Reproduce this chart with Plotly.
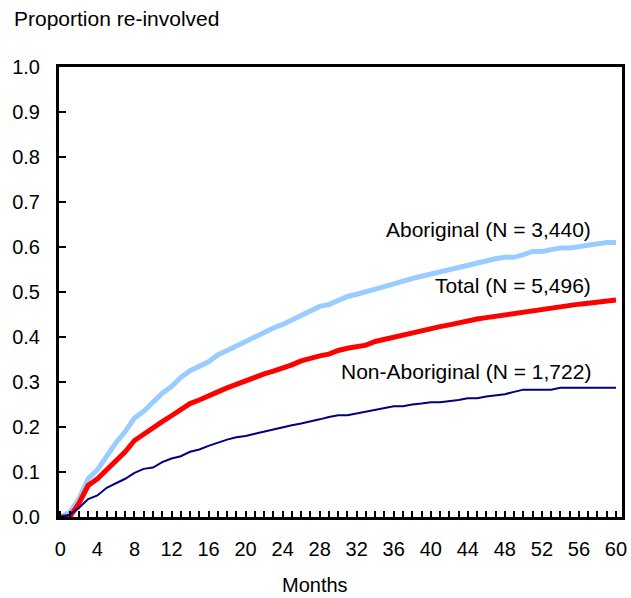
import plotly.graph_objects as go

# %% data (proportion re-involved by month)
months = list(range(61))

aboriginal = [
    0.0, 0.01, 0.04, 0.085, 0.105, 0.135, 0.165, 0.19, 0.22, 0.235,
    0.255, 0.275, 0.29, 0.31, 0.325, 0.335, 0.345, 0.36, 0.37, 0.38,
    0.392, 0.40, 0.41, 0.42, 0.428, 0.438, 0.45, 0.46, 0.468, 0.472,
    0.48, 0.49, 0.495, 0.50, 0.507, 0.512, 0.518, 0.525, 0.53, 0.535,
    0.54, 0.545, 0.55, 0.555, 0.56, 0.565, 0.57, 0.574, 0.577, 0.577,
    0.583, 0.59, 0.59, 0.595, 0.598, 0.598, 0.602, 0.604, 0.607, 0.61,
    0.61,
]
total = [
    0.0, 0.0, 0.03, 0.07, 0.085, 0.105, 0.125, 0.145, 0.17, 0.185,
    0.197, 0.212, 0.225, 0.237, 0.252, 0.26, 0.268, 0.278, 0.287, 0.295,
    0.303, 0.31, 0.318, 0.324, 0.33, 0.338, 0.347, 0.353, 0.358, 0.362,
    0.37, 0.375, 0.378, 0.382, 0.39, 0.395, 0.40, 0.405, 0.41, 0.415,
    0.42, 0.423, 0.427, 0.432, 0.436, 0.44, 0.443, 0.446, 0.45, 0.453,
    0.457, 0.46, 0.463, 0.465, 0.468, 0.47, 0.473, 0.475, 0.478, 0.48,
    0.482,
]
non_aboriginal = [
    0.0, 0.005, 0.02, 0.04, 0.048, 0.065, 0.075, 0.085, 0.098, 0.107,
    0.11, 0.122, 0.13, 0.135, 0.145, 0.15, 0.158, 0.165, 0.172, 0.177,
    0.18, 0.185, 0.19, 0.195, 0.20, 0.204, 0.208, 0.212, 0.217, 0.222,
    0.226, 0.226, 0.23, 0.235, 0.238, 0.242, 0.246, 0.246, 0.25, 0.252,
    0.255, 0.255, 0.257, 0.26, 0.264, 0.264, 0.268, 0.27, 0.273, 0.278,
    0.283, 0.283, 0.283, 0.283, 0.287, 0.287, 0.287, 0.287, 0.287, 0.287,
    0.287,
]

labels = [
    "Aboriginal (N = 3,440)",
    "Total (N = 5,496)",
    "Non-Aboriginal (N = 1,722)",
]
label_y = [0.64, 0.515, 0.324]

# %%
font = "Arial, Liberation Sans, sans-serif"
fig = go.Figure()

for ys, color, width in (
    (aboriginal, "#99ccff", 5),
    (total, "#ff0000", 5),
    (non_aboriginal, "#000080", 2),
):
    fig.add_scatter(
        x=months, y=ys, mode="lines", line=dict(color=color, width=width),
        showlegend=False, hoverinfo="skip",
    )

for text, y in zip(labels, label_y):
    fig.add_annotation(
        x=57.5, y=y, xref="x", yref="y", text=text, showarrow=False,
        xanchor="right", yanchor="middle", font=dict(size=21, color="black"),
    )

fig.update_layout(
    width=631,
    height=598,
    margin=dict(l=59, r=9, t=67, b=81),
    plot_bgcolor="white",
    paper_bgcolor="white",
    font=dict(family=font, size=20, color="black"),
    annotations=list(fig.layout.annotations) + [
        dict(
            text="Proportion re-involved", xref="paper", yref="paper",
            x=-0.083, y=1.0, xanchor="left", yanchor="middle", yshift=49,
            showarrow=False, font=dict(size=21),
        ),
        dict(
            text="Months", xref="paper", yref="paper",
            x=0.455, y=0, xanchor="center", yanchor="middle", yshift=-68,
            showarrow=False, font=dict(size=20),
        ),
    ],
)
fig.update_xaxes(
    range=[-0.15, 60.65],
    tickmode="linear", tick0=0, dtick=4,
    ticks="inside", ticklen=6, tickwidth=2, tickcolor="black",
    minor=dict(dtick=1, tick0=0, ticks="inside", ticklen=6, tickwidth=2,
               tickcolor="black"),
    ticklabelstandoff=12, automargin=False,
    showline=True, linecolor="black", linewidth=3, mirror=True,
    showgrid=False, zeroline=False,
)
fig.update_yaxes(
    range=[0, 1.0],
    tickmode="linear", tick0=0, dtick=0.1, tickformat=".1f",
    ticks="inside", ticklen=7, tickwidth=2, tickcolor="black",
    ticklabelstandoff=12, automargin=False,
    showline=True, linecolor="black", linewidth=3, mirror=True,
    showgrid=False, zeroline=False,
)

# drop the default page margin so the figure fills the window exactly
fig.write_html(
    "out.html",
    config={"displayModeBar": False},
    post_script="document.body.style.margin='0';document.body.style.overflow='hidden';",
)
